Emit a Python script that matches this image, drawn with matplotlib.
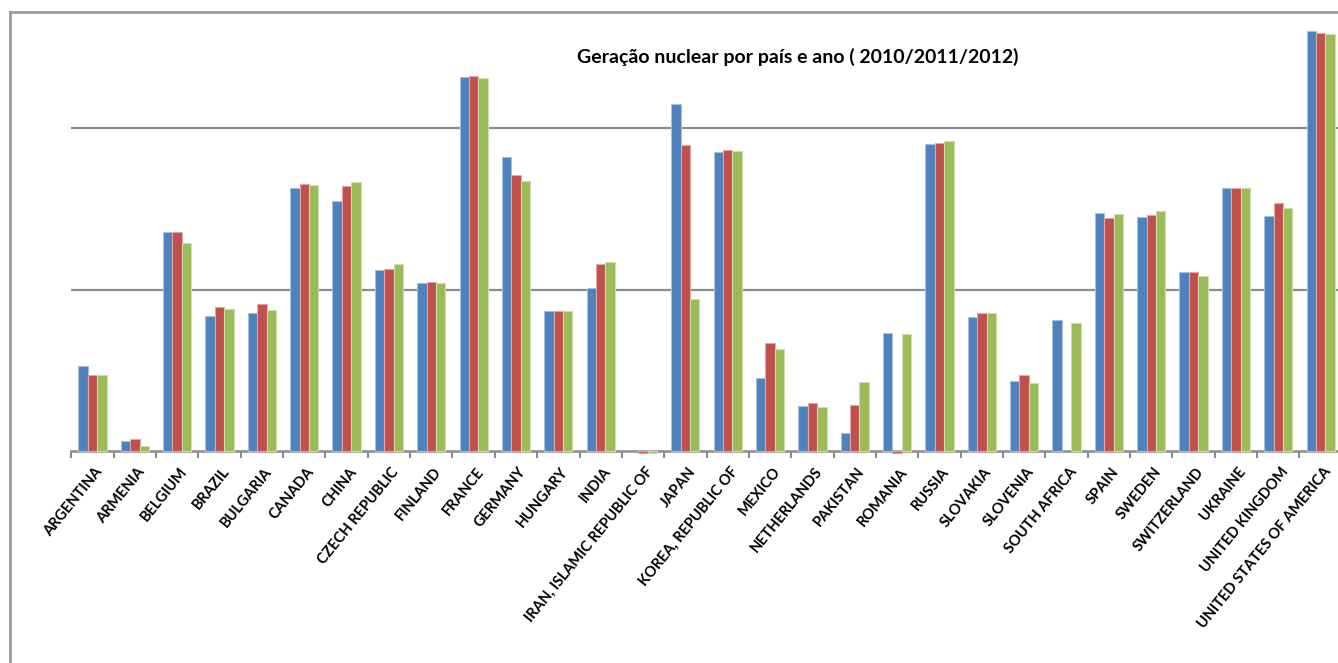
import matplotlib
matplotlib.use("Agg")
import matplotlib.pyplot as plt
from matplotlib.lines import Line2D
from matplotlib.transforms import ScaledTranslation
import numpy as np

countries = [
    "ARGENTINA", "ARMENIA", "BELGIUM", "BRAZIL", "BULGARIA", "CANADA", "CHINA",
    "CZECH REPUBLIC", "FINLAND", "FRANCE", "GERMANY", "HUNGARY", "INDIA",
    "IRAN, ISLAMIC REPUBLIC OF", "JAPAN", "KOREA, REPUBLIC OF", "MEXICO",
    "NETHERLANDS", "PAKISTAN", "ROMANIA", "RUSSIA", "SLOVAKIA", "SLOVENIA",
    "SOUTH AFRICA", "SPAIN", "SWEDEN", "SWITZERLAND", "UKRAINE",
    "UNITED KINGDOM", "UNITED STATES OF AMERICA",
]

nan = np.nan
gen_2010 = [3.36, 1.15, 22.7, 6.85, 7.15, 42.5, 35.3, 13.2, 11.0, 207, 66.1, 7.36, 10.2,
            nan, 141, 71.0, 2.83, 1.90, 1.29, 5.38, 79.6, 6.76, 2.71, 6.47, 29.8, 28.1,
            12.8, 42.5, 28.5, 399]
gen_2011 = [2.95, 1.19, 22.7, 7.79, 8.13, 45.0, 43.7, 13.4, 11.1, 210, 51.2, 7.36, 14.4,
            0.97, 78.5, 73.1, 4.66, 1.98, 1.93, 0.97, 80.7, 7.15, 2.95, nan, 27.7, 28.9,
            12.8, 42.5, 34.3, 387]
gen_2012 = [2.95, 1.07, 19.4, 7.57, 7.46, 44.4, 46.3, 14.4, 11.0, 204, 47.0, 7.36, 14.8,
            0.97, 8.74, 72.1, 4.28, 1.87, 2.67, 5.30, 83.1, 7.15, 2.64, 6.20, 29.3, 30.6,
            12.1, 42.5, 32.0, 382]

series = [gen_2010, gen_2011, gen_2012]
colors = ["#4F81BD", "#C0504D", "#9BBB59"]
edges = ["#A7C0DE", "#DFA8A6", "#CDDDAC"]

W, H = 1338, 663
fig = plt.figure(figsize=(W / 100, H / 100), dpi=100)
fig.patch.set_facecolor("white")

# plot area, right edge runs slightly past the figure
x0, x1 = 71.3, 1341.8
y0, y1 = 451, 12
ax = fig.add_axes([x0 / W, (H - y0) / H, (x1 - x0) / W, (y0 - y1) / H])
ax.set_yscale("log")
ax.set_ylim(1, 523)
n = len(countries)
ax.set_xlim(0, n)

# bars start at 1 (axis floor); values under 1 hang just below the axis
x = np.arange(n) + 0.5
bw = 1 / 4.5
for k, (vals, c, ec) in enumerate(zip(series, colors, edges)):
    v = np.array(vals, dtype=float)
    ax.bar(x + (k - 1) * bw, v - 1, bottom=1, width=bw, color=c,
           edgecolor=ec, linewidth=0.8, zorder=3, clip_on=False)

for g in (10, 100):
    ax.axhline(g, color="#8C8C8C", linewidth=1.6, zorder=1)

for s in ("top", "right", "left"):
    ax.spines[s].set_visible(False)
ax.spines["bottom"].set_color("#8C8C8C")
ax.spines["bottom"].set_linewidth(1.8)
ax.spines["bottom"].set_zorder(2.5)

ax.set_yticks([])
ax.minorticks_off()
ax.set_xticks(np.arange(n + 1), minor=True)
ax.set_xticks(x)
ax.tick_params(axis="x", which="minor", length=5, width=1.5, color="#8C8C8C", direction="out")
ax.tick_params(axis="x", which="major", length=0, pad=10)
ax.set_xticklabels(countries, rotation=51, ha="right", va="top",
                   rotation_mode="anchor", fontsize=10.5, fontweight="bold",
                   family=["Lato", "DejaVu Sans"])
shift = ScaledTranslation(2 / 100, 0, fig.dpi_scale_trans)
for lbl in ax.get_xticklabels():
    lbl.set_transform(lbl.get_transform() + shift)

ax.set_title("Geração nuclear por país e ano ( 2010/2011/2012)", fontsize=14,
             fontweight="bold", family=["Lato", "DejaVu Sans"], x=(798 - x0) / (x1 - x0),
             y=(y0 - 57) / (y0 - y1), va="center", pad=0)

# chart border (top and left)
fig.add_artist(Line2D([10 / W, 10 / W], [0, (H - 12) / H], color="#9A9A9A", linewidth=2))
fig.add_artist(Line2D([10 / W, 1], [(H - 12) / H, (H - 12) / H], color="#9A9A9A", linewidth=2))

fig.savefig("out.png", dpi=100, facecolor="white")
